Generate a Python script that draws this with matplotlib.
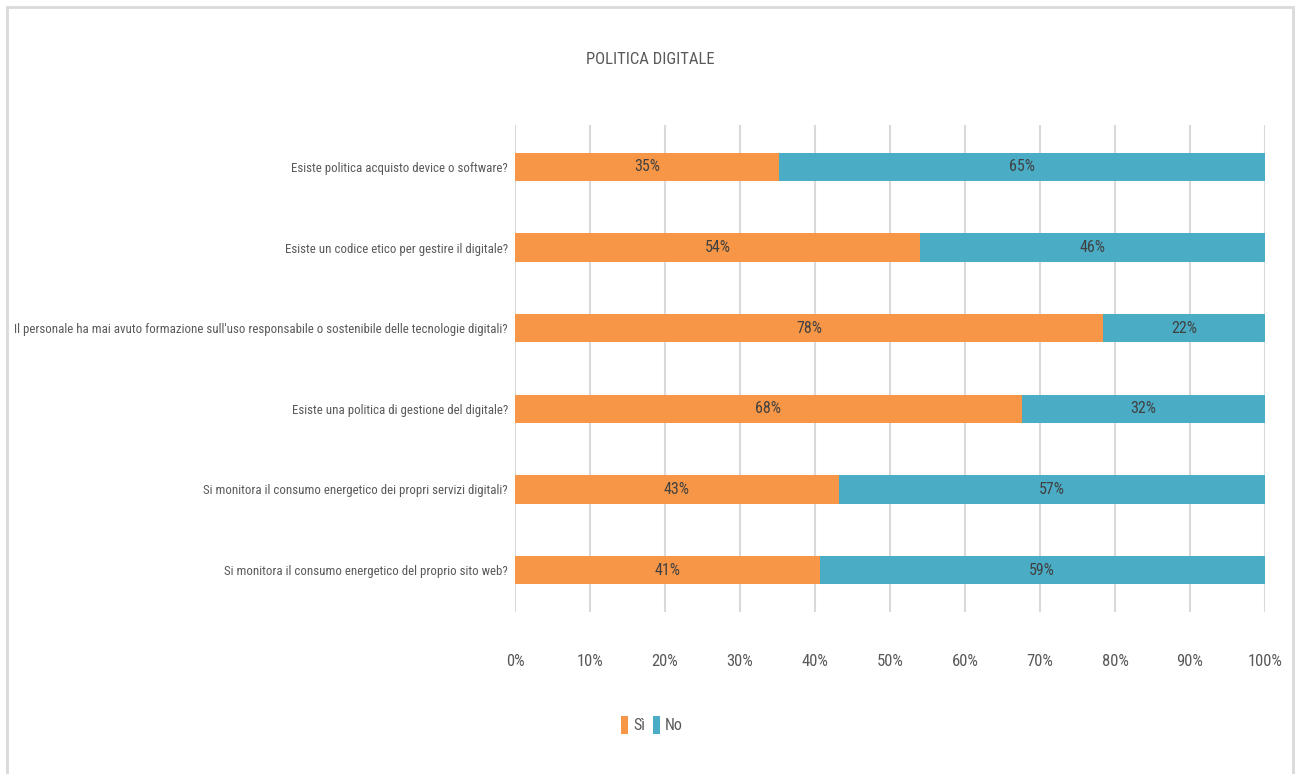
import matplotlib
matplotlib.use("Agg")
import matplotlib.pyplot as plt
from matplotlib.patches import Rectangle
from matplotlib import font_manager
import numpy as np

# Dati del grafico
domande = [
    "Esiste politica acquisto device o software?",
    "Esiste un codice etico per gestire il digitale?",
    "Il personale ha mai avuto formazione sull'uso responsabile o sostenibile delle tecnologie digitali?",
    "Esiste una politica di gestione del digitale?",
    "Si monitora il consumo energetico dei propri servizi digitali?",
    "Si monitora il consumo energetico del proprio sito web?",
]
si = [35.2, 54.0, 78.4, 67.6, 43.2, 40.6]
no = [100 - v for v in si]
serie = ["Sì", "No"]
tick_vals = list(range(0, 101, 10))

ARANCIO = "#F79646"
AZZURRO = "#4BACC6"
GRIGIO = "#595959"

# font stretto se disponibile
nomi = {f.name for f in font_manager.fontManager.ttflist}
famiglia = 'Liberation Sans'
for n in ['Roboto Condensed', 'Liberation Sans Narrow', 'Open Sans Condensed']:
    if n in nomi:
        famiglia = n
        break
plt.rcParams['font.family'] = [famiglia, 'DejaVu Sans']

fig = plt.figure(figsize=(12.97, 7.74), dpi=100)
fig.patches.append(Rectangle((7 / 1297, -0.01), 1286 / 1297, 1 - 7 / 774 + 0.01,
                             transform=fig.transFigure, fill=False,
                             edgecolor="#D9D9D9", linewidth=2))

ax = fig.add_axes([515 / 1297, 1 - 612 / 774, 750 / 1297, 487 / 774])
y = np.arange(len(domande))

ax.barh(y, si, height=0.35, color=ARANCIO, label=serie[0], zorder=3)
ax.barh(y, no, left=si, height=0.35, color=AZZURRO, label=serie[1], zorder=3)

# Etichette dati
for i in range(len(domande)):
    ax.text(si[i] / 2, y[i], f"{round(si[i])}%", ha="center", va="center",
            fontsize=11.5, color="#404040", zorder=4)
    ax.text(si[i] + no[i] / 2, y[i], f"{round(no[i])}%", ha="center", va="center",
            fontsize=11.5, color="#404040", zorder=4)

ax.set_xlim(0, 100)
ax.set_ylim(len(domande) - 0.48, -0.52)
ax.set_yticks(y)
etichette = ax.set_yticklabels(domande, fontsize=12, color=GRIGIO)
ax.set_xticks(tick_vals)
ax.set_xticklabels([f"{v}%" for v in tick_vals], fontsize=12, color=GRIGIO)
ax.tick_params(axis="both", length=0)
ax.tick_params(axis="x", pad=30)
ax.tick_params(axis="y", pad=5)
ax.grid(axis="x", color="#D9D9D9", linewidth=1.5, zorder=0)
for s in ax.spines.values():
    s.set_visible(False)

# riduce le etichette lunghe perche' stiano nello spazio a sinistra
renderer = fig.canvas.get_renderer()
larghezza = max(t.get_window_extent(renderer).width for t in etichette)
if larghezza > 493:
    nuova = 12 * 493 / larghezza
    for t in etichette:
        t.set_fontsize(nuova)

fig.text(650 / 1297, 1 - 60 / 774, "POLITICA DIGITALE", ha="center", va="center",
         fontsize=12, color=GRIGIO)

fig.legend(loc="center", bbox_to_anchor=(652 / 1297, 1 - 725 / 774), ncol=2,
           frameon=False, fontsize=11.5, handlelength=0.45, handleheight=1.3,
           handletextpad=0.3, columnspacing=0.5, labelcolor=GRIGIO)

fig.savefig("out.png", dpi=100)
